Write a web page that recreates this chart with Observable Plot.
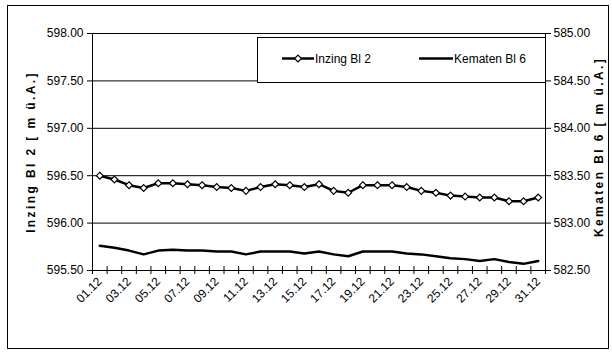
<!DOCTYPE html>
<html>
<head>
<meta charset="utf-8">
<script src="https://cdn.jsdelivr.net/npm/d3@7"></script>
<script src="https://cdn.jsdelivr.net/npm/@observablehq/plot@0.6"></script>
<style>
  body { margin: 0; background: #fff; }
  #wrap { position: relative; width: 612px; height: 352px; font-family: "Liberation Sans", Arial, sans-serif; }
  #border { position: absolute; left: 7px; top: 5px; width: 600px; height: 342px; border: 1px solid #000; pointer-events: none; }
  #legend { position: absolute; left: 257px; top: 37px; width: 287px; height: 44px; border: 1px solid #000; border-right: none; background: #fff; }
  #legend svg { position: absolute; left: 0; top: 0; }
  g[aria-label="text"] text { letter-spacing: 2.4px; }
</style>
</head>
<body>
<div id="wrap">
  <div id="chart"></div>
  <div id="legend"></div>
  <div id="border"></div>
</div>
<script>
// Daily dates of December
const days = ["01.12","02.12","03.12","04.12","05.12","06.12","07.12","08.12","09.12","10.12",
  "11.12","12.12","13.12","14.12","15.12","16.12","17.12","18.12","19.12","20.12",
  "21.12","22.12","23.12","24.12","25.12","26.12","27.12","28.12","29.12","30.12","31.12"];

// Groundwater level Inzing Bl 2 [m ü.A.] (left axis)
const inzing = [596.50, 596.46, 596.40, 596.37, 596.42, 596.42, 596.41, 596.40, 596.38, 596.37,
  596.34, 596.38, 596.41, 596.40, 596.38, 596.41, 596.34, 596.32, 596.40, 596.40,
  596.40, 596.38, 596.34, 596.32, 596.29, 596.28, 596.27, 596.27, 596.23, 596.23, 596.27];

// Groundwater level Kematen Bl 6 [m ü.A.] (right axis)
const kematen = [582.76, 582.74, 582.71, 582.67, 582.71, 582.72, 582.71, 582.71, 582.70, 582.70,
  582.67, 582.70, 582.70, 582.70, 582.68, 582.70, 582.67, 582.65, 582.70, 582.70,
  582.70, 582.68, 582.67, 582.65, 582.63, 582.62, 582.60, 582.62, 582.59, 582.57, 582.60];

const leftTicks = [595.5, 596.0, 596.5, 597.0, 597.5, 598.0];
const rightTicks = [582.5, 583.0, 583.5, 584.0, 584.5, 585.0];
const leftTitle = "Inzing Bl 2 [ m ü.A.]";
const rightTitle = "Kematen Bl 6 [ m ü.A.]";

// Both axes span 2.5 m, so the right series is shifted onto the left scale
const shift = leftTicks[0] - rightTicks[0];

const rowsL = inzing.map((v, i) => ({day: i + 1, v}));
const rowsR = kematen.map((v, i) => ({day: i + 1, v: v + shift}));
const boundaries = d3.range(0, days.length + 1).map(i => i + 0.5);
const labelDays = d3.range(1, days.length + 1, 2);

const chart = Plot.plot({
  width: 612,
  height: 352,
  marginLeft: 92,
  marginRight: 67,
  marginTop: 33,
  marginBottom: 82,
  style: {fontFamily: "'Liberation Sans', Arial, sans-serif", fontSize: "12px", color: "#000", background: "#fff", overflow: "visible"},
  x: {type: "linear", domain: [0.5, days.length + 0.5]},
  y: {type: "linear", domain: [leftTicks[0], leftTicks[leftTicks.length - 1]]},
  marks: [
    Plot.gridY(leftTicks, {stroke: "#000", strokeOpacity: 1, strokeWidth: 1}),
    Plot.frame({stroke: "#000"}),
    Plot.axisY(leftTicks, {anchor: "left", tickSize: 5, tickPadding: 4, tickFormat: d => d.toFixed(2), label: null}),
    Plot.axisY(rightTicks.map(v => v + shift), {anchor: "right", tickSize: 5, tickPadding: 3, tickFormat: d => (d - shift).toFixed(2), label: null}),
    Plot.ruleX(boundaries, {x: d => d, y1: leftTicks[0], y2: leftTicks[0], insetTop: -4, insetBottom: -4, stroke: "#000"}),
    Plot.axisX(labelDays, {anchor: "bottom", tickSize: 0, tickPadding: 9, tickRotate: -45, tickFormat: d => days[d - 1], label: null}),
    Plot.line(rowsR, {x: "day", y: "v", stroke: "#000", strokeWidth: 2.5}),
    Plot.line(rowsL, {x: "day", y: "v", stroke: "#000", strokeWidth: 2.5}),
    Plot.dot(rowsL, {x: "day", y: "v", symbol: "diamond2", r: 3.1, fill: "#fff", stroke: "#000", strokeWidth: 1.2}),
    Plot.text([leftTitle], {frameAnchor: "left", dx: -61, rotate: -90, textAnchor: "middle", fontWeight: "bold", fontSize: 12}),
    Plot.text([rightTitle], {frameAnchor: "right", dx: 54, dy: -5, rotate: -90, textAnchor: "middle", fontWeight: "bold", fontSize: 12})
  ]
});
document.getElementById("chart").appendChild(chart);

// Legend box with line samples
const lg = d3.select("#legend").append("svg").attr("width", 287).attr("height", 44)
  .style("font-family", "'Liberation Sans', Arial, sans-serif").style("font-size", "12px");
const items = [
  {name: "Inzing Bl 2", x0: 24, x1: 56, marker: true},
  {name: "Kematen Bl 6", x0: 161, x1: 195, marker: false}
];
items.forEach(it => {
  lg.append("line").attr("x1", it.x0).attr("x2", it.x1).attr("y1", 20.5).attr("y2", 20.5)
    .attr("stroke", "#000").attr("stroke-width", 2.5);
  if (it.marker) {
    lg.append("path").attr("d", d3.symbol(d3.symbolDiamond2, Math.PI * 3.1 * 3.1)())
      .attr("transform", `translate(${(it.x0 + it.x1) / 2},20.5)`)
      .attr("fill", "#fff").attr("stroke", "#000").attr("stroke-width", 1.2);
  }
  lg.append("text").attr("x", it.x1 + 1).attr("y", 25).text(it.name);
});
</script>
</body>
</html>
